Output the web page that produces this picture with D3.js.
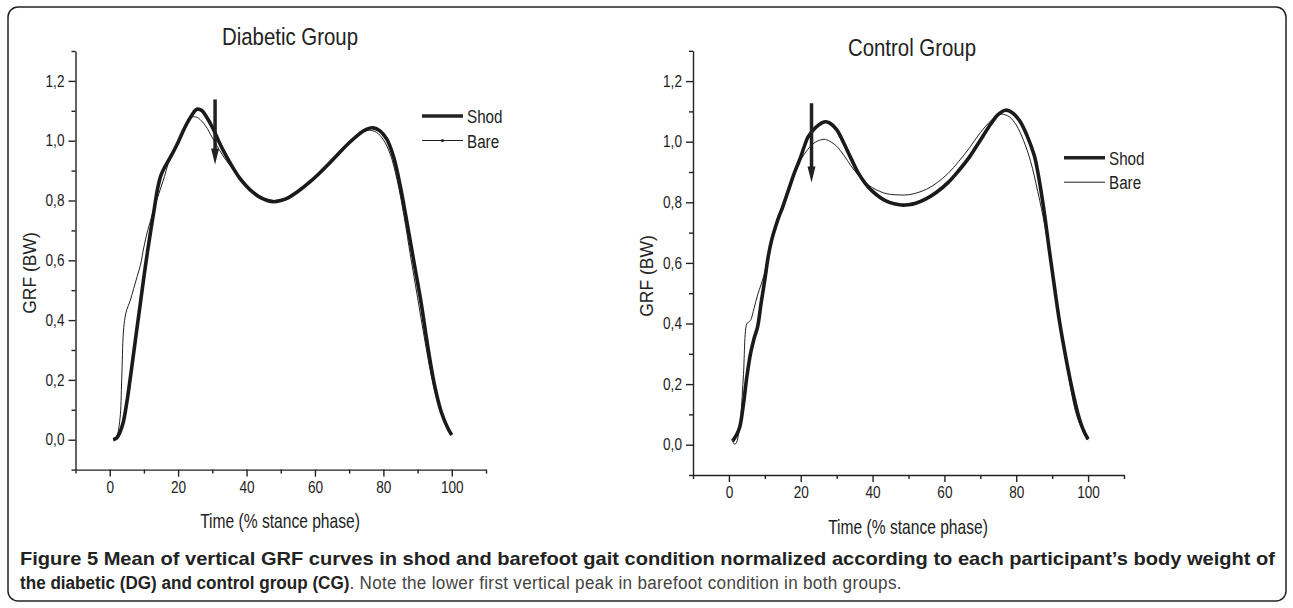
<!DOCTYPE html>
<meta charset="utf-8">
<title>GRF curves</title>
<style>
  body { margin: 0; background: #fff; }
  svg text { font-family: "Liberation Sans", Arial, sans-serif; fill: #222; }
  .axis path, .axis line { stroke: #222; stroke-width: 1.4; }
  .axis text { font-size: 16px; }
</style>
<svg id="fig" width="1293" height="608"></svg>
<script src="https://d3js.org/d3.v7.min.js"></script>
<script>
// data: [time %, GRF in body weights]
var dgShod = [[1,0],[2,0.005],[3,0.025],[4,0.06],[5,0.125],[6,0.205],[7,0.29],[8,0.375],[9,0.46],[10,0.545],
  [11,0.625],[12,0.70],[13,0.77],[14,0.84],[15,0.885],[16,0.91],[17,0.93],[18,0.95],[20,0.995],[22,1.045],
  [24,1.085],[25.5,1.105],[27,1.10],[28,1.085],[30,1.045],[32,0.995],[34,0.95],[36,0.91],[38,0.875],[40,0.848],
  [42,0.826],[44,0.81],[46,0.80],[48,0.796],[50,0.80],[52,0.808],[55,0.83],[58,0.857],[61,0.888],[64,0.922],
  [67,0.958],[70,0.993],[73,1.023],[75,1.038],[77,1.043],[79,1.033],[81,1.005],[83,0.945],[85,0.845],[87,0.72],
  [89,0.59],[91,0.46],[93,0.31],[95,0.18],[97,0.09],[99,0.035],[100,0.016]];
var dgBare = [[1,0],[2,0.01],[3,0.07],[3.5,0.2],[4,0.36],[4.5,0.41],[5,0.435],[6,0.465],[7,0.505],[8,0.545],
  [9,0.585],[10,0.645],[11,0.695],[12,0.735],[13,0.775],[14,0.81],[15,0.845],[16,0.88],[17,0.92],[18,0.95],
  [20,0.995],[22,1.04],[24,1.078],[25,1.08],[26,1.075],[28,1.05],[30,1.01],[32,0.97],[34,0.935],[36,0.905],
  [38,0.875],[40,0.85],[42,0.83],[44,0.815],[46,0.805],[48,0.80],[50,0.803],[52,0.812],[55,0.833],[58,0.86],
  [61,0.89],[64,0.924],[67,0.96],[70,0.995],[73,1.022],[75,1.033],[76,1.035],[78,1.028],[80,1.003],[82,0.955],
  [84,0.87],[86,0.75],[88,0.61],[90,0.475],[92,0.34],[94,0.215],[96,0.12],[98,0.055],[100,0.015]];
var cgShod = [[1,0.012],[2,0.03],[3,0.058],[4,0.13],[5,0.225],[6,0.30],[7,0.35],[8,0.39],[9,0.47],[10,0.545],
  [11,0.625],[12,0.68],[13,0.72],[14,0.755],[15,0.785],[16,0.82],[17,0.855],[18,0.89],[19,0.92],[20,0.95],
  [21,0.985],[22,1.015],[24,1.045],[26,1.063],[27,1.066],[28,1.062],[30,1.04],[32,0.995],[34,0.945],[36,0.897],
  [38,0.862],[40,0.836],[42,0.817],[44,0.803],[46,0.795],[48,0.791],[50,0.792],[52,0.797],[55,0.812],[58,0.835],
  [61,0.865],[64,0.905],[67,0.95],[70,1.005],[73,1.06],[75,1.09],[77,1.104],[79,1.095],[81,1.068],[83,1.02],
  [85,0.955],[86,0.9],[87,0.83],[88,0.75],[89,0.66],[90,0.575],[91,0.49],[92,0.41],[93,0.34],[94,0.275],
  [95,0.215],[96,0.16],[97,0.11],[98,0.07],[99,0.04],[100,0.018]];
var cgBare = [[1,0.012],[1.5,0.002],[2,0.005],[3,0.06],[4,0.22],[5,0.40],[5.5,0.405],[6,0.41],[7,0.45],[8,0.495],
  [9,0.53],[10,0.57],[11,0.625],[12,0.675],[13,0.72],[14,0.76],[15,0.795],[16,0.83],[17,0.86],[18,0.89],
  [19,0.915],[20,0.94],[22,0.975],[24,0.998],[26.5,1.008],[28,1.002],[30,0.985],[32,0.955],[34,0.92],[36,0.89],
  [38,0.865],[40,0.848],[42,0.836],[44,0.828],[46,0.825],[48,0.824],[50,0.825],[52,0.83],[55,0.843],[58,0.865],
  [61,0.895],[64,0.935],[67,0.98],[70,1.03],[73,1.07],[75,1.088],[76,1.091],[78,1.083],[80,1.055],[82,1.005],
  [84,0.935],[86,0.835],[88,0.72],[90,0.57],[92,0.41],[94,0.265],[96,0.135],[97,0.09],[98,0.06],[99,0.035],[100,0.015]];

// arrows marking the first peak: [time, top, tip]
var dgArrow = [30.8, 1.138, 0.92];
var cgArrow = [23, 1.127, 0.865];

var xTicks = [0, 20, 40, 60, 80, 100];
var xMinor = [-10, 10, 30, 50, 70, 90, 110];
var yTicks = [0, 0.2, 0.4, 0.6, 0.8, 1.0, 1.2];
var yMinor = [-0.1, 0.1, 0.3, 0.5, 0.7, 0.9, 1.1, 1.3];
var seriesNames = ["Shod", "Bare"];

var svg = d3.select("#fig");
var locale = d3.formatLocale({decimal: ",", thousands: ".", grouping: [3], currency: ["", ""]});
var fmt = locale.format(".1f");

// condensed-looking text (the original uses a narrow face)
function label(g, x, y, txt, size, sx, rot) {
  return g.append("text")
    .attr("transform", "translate(" + x + "," + y + ")" + (rot ? " rotate(-90)" : "") + " scale(" + sx + ",1)")
    .attr("text-anchor", "middle").style("font-size", size + "px").text(txt);
}

// frame
svg.append("rect")
  .attr("x", 8).attr("y", 7).attr("width", 1278).attr("height", 594)
  .attr("rx", 10)
  .attr("fill", "none").attr("stroke", "#222").attr("stroke-width", 1.5);

var panels = [
  {title: "Diabetic Group", shod: dgShod, bare: dgBare, arrow: dgArrow,
   xr: [75.5, 486], yr: [469.6, 51], titleX: 290, titleY: 45,
   yLab: [36, 273], xLab: [280, 528], leg: [422, 116], dot: true},
  {title: "Control Group", shod: cgShod, bare: cgBare, arrow: cgArrow,
   xr: [693, 1124], yr: [475, 50.8], titleX: 912, titleY: 56,
   yLab: [653, 276], xLab: [908, 534], leg: [1064, 157.7], dot: false}
];

panels.forEach(function(p) {
  var x = d3.scaleLinear().domain([-10, 110]).range(p.xr);
  var y = d3.scaleLinear().domain([-0.1, 1.3]).range(p.yr);
  var g = svg.append("g");

  // axes
  g.append("g").attr("class", "axis")
    .attr("transform", "translate(0," + p.yr[0] + ")")
    .call(d3.axisBottom(x).tickValues(xMinor).tickSize(4).tickFormat(""))
    .select(".domain").remove();
  g.append("g").attr("class", "axis")
    .attr("transform", "translate(0," + p.yr[0] + ")")
    .call(d3.axisBottom(x).tickValues(xTicks).tickSize(7).tickSizeOuter(0).tickPadding(5))
    .selectAll("text").attr("transform", "scale(0.85,1)");
  g.append("g").attr("class", "axis")
    .attr("transform", "translate(" + p.xr[0] + ",0)")
    .call(d3.axisLeft(y).tickValues(yMinor).tickSize(4).tickFormat(""))
    .select(".domain").remove();
  g.append("g").attr("class", "axis")
    .attr("transform", "translate(" + p.xr[0] + ",0)")
    .call(d3.axisLeft(y).tickValues(yTicks).tickSize(7).tickSizeOuter(0).tickPadding(6).tickFormat(fmt))
    .selectAll("text").attr("transform", "scale(0.85,1)");
  g.selectAll(".axis text").attr("fill", "#222").style("font-family", null);

  // curves
  var line = d3.line()
    .x(function(d) { return x(d[0]); })
    .y(function(d) { return y(d[1]); })
    .curve(d3.curveCatmullRom.alpha(0.5));

  g.append("path").datum(p.bare)
    .attr("d", line).attr("fill", "none")
    .attr("stroke", "#222").attr("stroke-width", 1);
  g.append("path").datum(p.shod)
    .attr("d", line).attr("fill", "none")
    .attr("stroke", "#1a1a1a").attr("stroke-width", 3.6).attr("stroke-linejoin", "round");

  // arrow
  var ax = x(p.arrow[0]), aTop = y(p.arrow[1]), aTip = y(p.arrow[2]);
  g.append("line")
    .attr("x1", ax).attr("x2", ax).attr("y1", aTop).attr("y2", aTip - 12)
    .attr("stroke", "#222").attr("stroke-width", 3.5);
  g.append("path")
    .attr("d", "M" + (ax - 4) + "," + (aTip - 16) + "L" + (ax + 4) + "," + (aTip - 16) + "L" + ax + "," + aTip + "Z")
    .attr("fill", "#222");

  // titles
  label(g, p.titleX, p.titleY, p.title, 24, 0.85, false);
  label(g, p.yLab[0], p.yLab[1], "GRF (BW)", 19, 0.92, true);
  label(g, p.xLab[0], p.xLab[1], "Time (% stance phase)", 20, 0.78, false);

  // legend
  seriesNames.forEach(function(name, i) {
    var ly = p.leg[1] + i * 24.5;
    g.append("line")
      .attr("x1", p.leg[0]).attr("x2", p.leg[0] + 41).attr("y1", ly).attr("y2", ly)
      .attr("stroke", "#222").attr("stroke-width", i === 0 ? 3.6 : 1);
    if (i === 1 && p.dot) {
      g.append("circle").attr("cx", p.leg[0] + 20.5).attr("cy", ly).attr("r", 1.5).attr("fill", "#222");
    }
    g.append("text")
      .attr("transform", "translate(" + (p.leg[0] + 45) + "," + (ly + 7) + ") scale(0.8,1)")
      .style("font-size", "19px").text(name);
  });
});

// caption
var cap = svg.append("g");
cap.append("text").attr("x", 20).attr("y", 565)
  .attr("textLength", 1255).attr("lengthAdjust", "spacingAndGlyphs")
  .style("font-size", "19px").style("font-weight", "bold")
  .text("Figure 5 Mean of vertical GRF curves in shod and barefoot gait condition normalized according to each participant\u2019s body weight of");
var l2 = cap.append("text").attr("transform", "translate(20,589) scale(0.9,1)").style("font-size", "19px");
l2.append("tspan").style("font-weight", "bold").text("the diabetic (DG) and control group (CG)");
l2.append("tspan").style("fill", "#444").style("letter-spacing", "0.35px")
  .text(". Note the lower first vertical peak in barefoot condition in both groups.");
</script>
